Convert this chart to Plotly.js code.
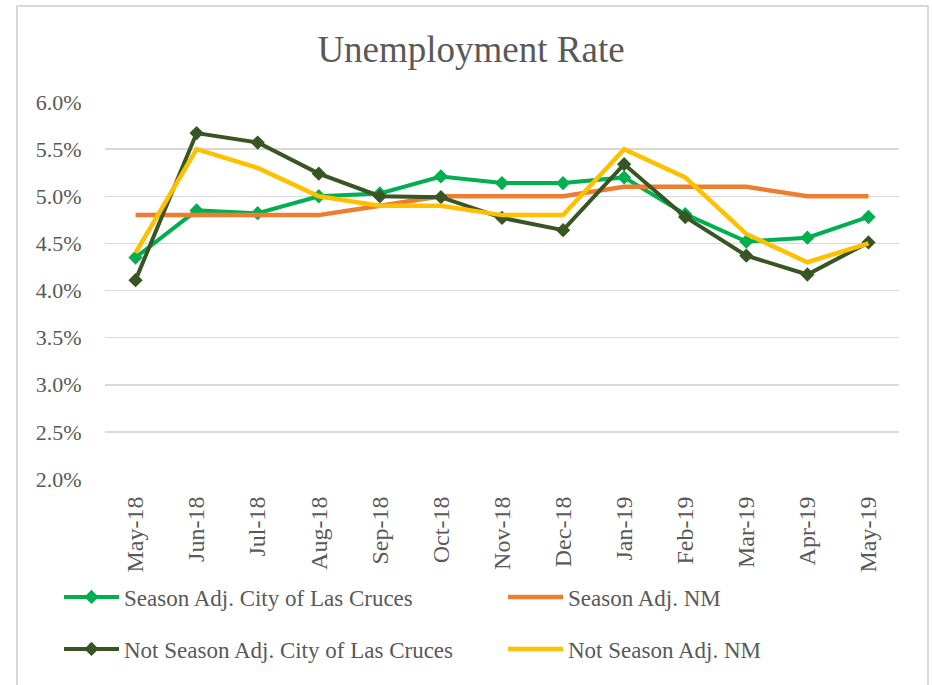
<!DOCTYPE html>
<html>
<head>
<meta charset="utf-8">
<script src="https://cdn.plot.ly/plotly-3.0.1.min.js"></script>
<style>
  html, body { margin: 0; padding: 0; background: #fff; overflow: hidden; }
  #chart { width: 932px; height: 685px; }
  #frame { position: absolute; left: 16px; top: 5px; width: 913px; height: 720px;
           border: 2px solid #D9D9D9; pointer-events: none; box-sizing: border-box; }
</style>
</head>
<body>
<div id="chart"></div>
<div id="frame"></div>
<script>
const months = ["May-18","Jun-18","Jul-18","Aug-18","Sep-18","Oct-18","Nov-18","Dec-18","Jan-19","Feb-19","Mar-19","Apr-19","May-19"];
const seasonAdjCity = [4.35, 4.85, 4.82, 5.00, 5.03, 5.21, 5.14, 5.14, 5.20, 4.81, 4.52, 4.56, 4.78];
const seasonAdjNM = [4.8, 4.8, 4.8, 4.8, 4.9, 5.0, 5.0, 5.0, 5.1, 5.1, 5.1, 5.0, 5.0];
const notSeasonAdjCity = [4.11, 5.67, 5.57, 5.24, 5.00, 4.99, 4.77, 4.64, 5.34, 4.78, 4.37, 4.17, 4.51];
const notSeasonAdjNM = [4.4, 5.5, 5.3, 5.0, 4.9, 4.9, 4.8, 4.8, 5.5, 5.2, 4.6, 4.3, 4.5];
const yTickVals = [2.0, 2.5, 3.0, 3.5, 4.0, 4.5, 5.0, 5.5, 6.0];

const font = "Liberation Serif";
const grey = "#595959";

const traces = [
  { x: months, y: seasonAdjCity, name: "Season Adj. City of Las Cruces", type: "scatter", mode: "lines+markers",
    line: { color: "#00B050", width: 4 }, marker: { symbol: "diamond", size: 11, color: "#00B050" }, legend: "legend" },
  { x: months, y: seasonAdjNM, name: "Season Adj. NM", type: "scatter", mode: "lines",
    line: { color: "#ED7D31", width: 4.5 }, legend: "legend2" },
  { x: months, y: notSeasonAdjCity, name: "Not Season Adj. City of Las Cruces", type: "scatter", mode: "lines+markers",
    line: { color: "#375623", width: 4 }, marker: { symbol: "diamond", size: 11, color: "#375623" }, legend: "legend3" },
  { x: months, y: notSeasonAdjNM, name: "Not Season Adj. NM", type: "scatter", mode: "lines",
    line: { color: "#FFC000", width: 4.5 }, legend: "legend4" }
];

function leg(px, py) {
  return {
    orientation: "h", xref: "container", yref: "container", x: px/932, xanchor: "left",
    y: 1 - py/685, yanchor: "middle", itemwidth: 55,
    font: { family: font, size: 23, color: grey }, bgcolor: "rgba(0,0,0,0)"
  };
}

const layout = {
  width: 932, height: 685,
  margin: { l: 105, r: 33, t: 102, b: 206 },
  paper_bgcolor: "#fff", plot_bgcolor: "#fff",
  font: { family: font, color: grey },
  title: { text: "Unemployment Rate", font: { family: font, size: 37, color: grey },
           xref: "container", x: 471/932, xanchor: "center", yref: "container", y: 1 - 49/685, yanchor: "middle" },
  xaxis: {
    type: "category", range: [-0.5, 12.5], tickangle: -90,
    tickfont: { family: font, size: 24, color: grey },
    showgrid: false, zeroline: false, showline: false,
    ticks: "outside", ticklen: 7, tickcolor: "rgba(0,0,0,0)"
  },
  yaxis: {
    range: [2.0, 6.0], tickvals: yTickVals, ticktext: yTickVals.map(v => v.toFixed(1) + "%"),
    tickfont: { family: font, size: 22, color: grey },
    showgrid: true, gridcolor: "#D9D9D9", gridwidth: 1.5, zeroline: false, showline: false,
    ticks: "outside", ticklen: 18, tickcolor: "rgba(0,0,0,0)"
  },
  legend: leg(59, 597),
  legend2: leg(503, 597),
  legend3: leg(59, 649),
  legend4: leg(503, 649),
  showlegend: true
};

Plotly.newPlot("chart", traces, layout, { displayModeBar: false, staticPlot: true });
</script>
</body>
</html>
